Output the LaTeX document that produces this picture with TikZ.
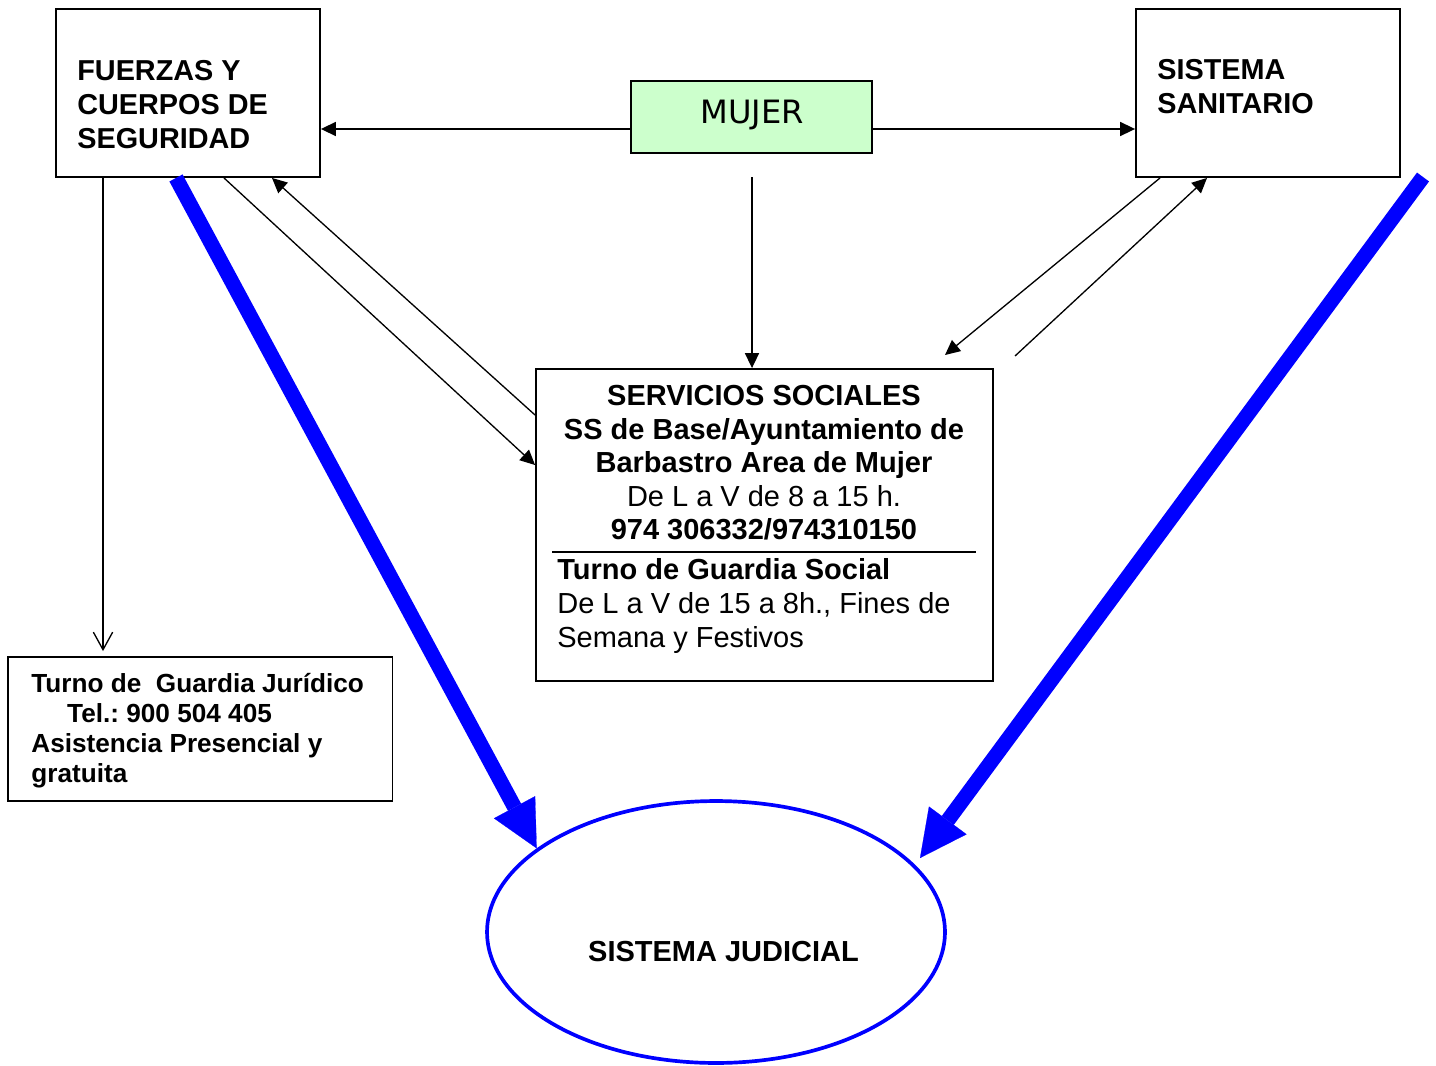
\documentclass[tikz,border=0pt]{standalone}
\usepackage{fontspec}
\setmainfont{Liberation Sans}
\newfontfamily\verdfont{DejaVu Sans}
\usetikzlibrary{arrows.meta,shapes.geometric}
\definecolor{mgreen}{HTML}{CCFFCC}
\definecolor{jblue}{HTML}{0000FF}
\frenchspacing
\begin{document}
\begin{tikzpicture}[x=0.02cm,y=-0.02cm,
  box/.style={draw, line width=1.1pt, inner sep=0pt, rectangle},
  txt/.style={inner sep=0pt, align=left},
  arr/.style={line width=0.75pt, -{Triangle[length=8.5pt,width=8pt]}},
  bluearr/.style={draw=jblue, line width=8.5pt, -{Triangle[length=26.6pt,width=26.6pt,line width=0.1pt]}},
  bigf/.style={font=\fontsize{16.4}{19.5}\selectfont\bfseries}
]
\useasboundingbox (0,0) rectangle (1436,1065);

% boxes
\node[box, minimum width=5.28cm, minimum height=3.36cm] (fz) at (188,93) {};
\node[txt, anchor=north west, bigf] (fzt) at (77,60) {FUERZAS Y\\CUERPOS DE\\SEGURIDAD};

\node[box, fill=mgreen, minimum width=4.82cm, minimum height=1.44cm] (mu) at (751.5,117) {};
\node[inner sep=0pt, font=\verdfont\fontsize{18.3}{22}\selectfont] (mut) at (752,115) {MUJER};

\node[box, minimum width=5.28cm, minimum height=3.36cm] (ss) at (1268,93) {};
\node[txt, anchor=north west, bigf] (sst) at (1157,59) {SISTEMA\\SANITARIO};

\node[box, minimum width=9.14cm, minimum height=6.24cm] (sv) at (764.5,525) {};
\node[inner sep=0pt, align=center, anchor=north, font=\fontsize{16.5}{19.1}\selectfont] (svt) at (764,385)
  {\textbf{SERVICIOS SOCIALES}\\\textbf{SS de Base/Ayuntamiento de}\\\textbf{Barbastro Area de Mujer}\\De L a V de 8 a 15 h.\\\textbf{974 306332/974310150}};
\coordinate (sepL) at (552,552);
\coordinate (sepR) at (976,552);
\draw[line width=1.1pt] (sepL) -- (sepR);
\node[txt, anchor=north west, font=\fontsize{16.5}{19.3}\selectfont] (svb) at (557,558)
  {\textbf{Turno de Guardia Social}\\De L a V de 15 a 8h., Fines de\\Semana y Festivos};

\node[box, minimum width=7.7cm, minimum height=2.88cm] (jr) at (200,729) {};
\node[txt, anchor=north west, font=\fontsize{14.9}{17}\selectfont\bfseries] (jrt) at (31,673)
  {Turno de\ \ Guardia Jurídico\\\hspace*{20.4pt}Tel.: 900 504 405\\Asistencia Presencial y\\gratuita};

\node[ellipse, draw=jblue, line width=2.1pt, inner sep=0pt, minimum width=9.16cm, minimum height=5.24cm] (jd) at (716,932) {};
\node[inner sep=0pt, font=\fontsize{16.5}{19}\selectfont\bfseries] (jdt) at (723.5,952) {SISTEMA JUDICIAL};

% connectors
\coordinate (mw) at ([yshift=-0.24cm]mu.west);
\coordinate (me) at ([yshift=-0.24cm]mu.east);
\draw[arr] (mw) -- (mw -| fz.east);
\draw[arr] (me) -- (me -| ss.west);

\coordinate (md) at (752,177);
\draw[arr] (md) -- (md |- sv.north);

\draw[arr] ([xshift=0.72cm]fz.south) -- ([yshift=1.2cm]sv.west);
\draw[arr] ([yshift=2.2cm]sv.west) -- ([xshift=1.68cm]fz.south);

\coordinate (sf1) at (945,355);
\coordinate (sf2) at (1015,356);
\draw[arr] ([xshift=-2.16cm]ss.south) -- (sf1);
\draw[arr] (sf2) -- ([xshift=-1.22cm]ss.south);

\coordinate (fzd) at ([xshift=-1.7cm]fz.south);
\draw[line width=0.75pt, -{Straight Barb[length=10pt,width=11pt]}, shorten >=0.1cm] (fzd) -- (fzd |- jr.north);

\draw[bluearr] ([xshift=-0.24cm]fz.south) -- (jd.155);
\coordinate (rb) at (1423,177);
\coordinate (rtip) at (920,858);
\draw[bluearr] (rb) -- (rtip);
\end{tikzpicture}
\end{document}
